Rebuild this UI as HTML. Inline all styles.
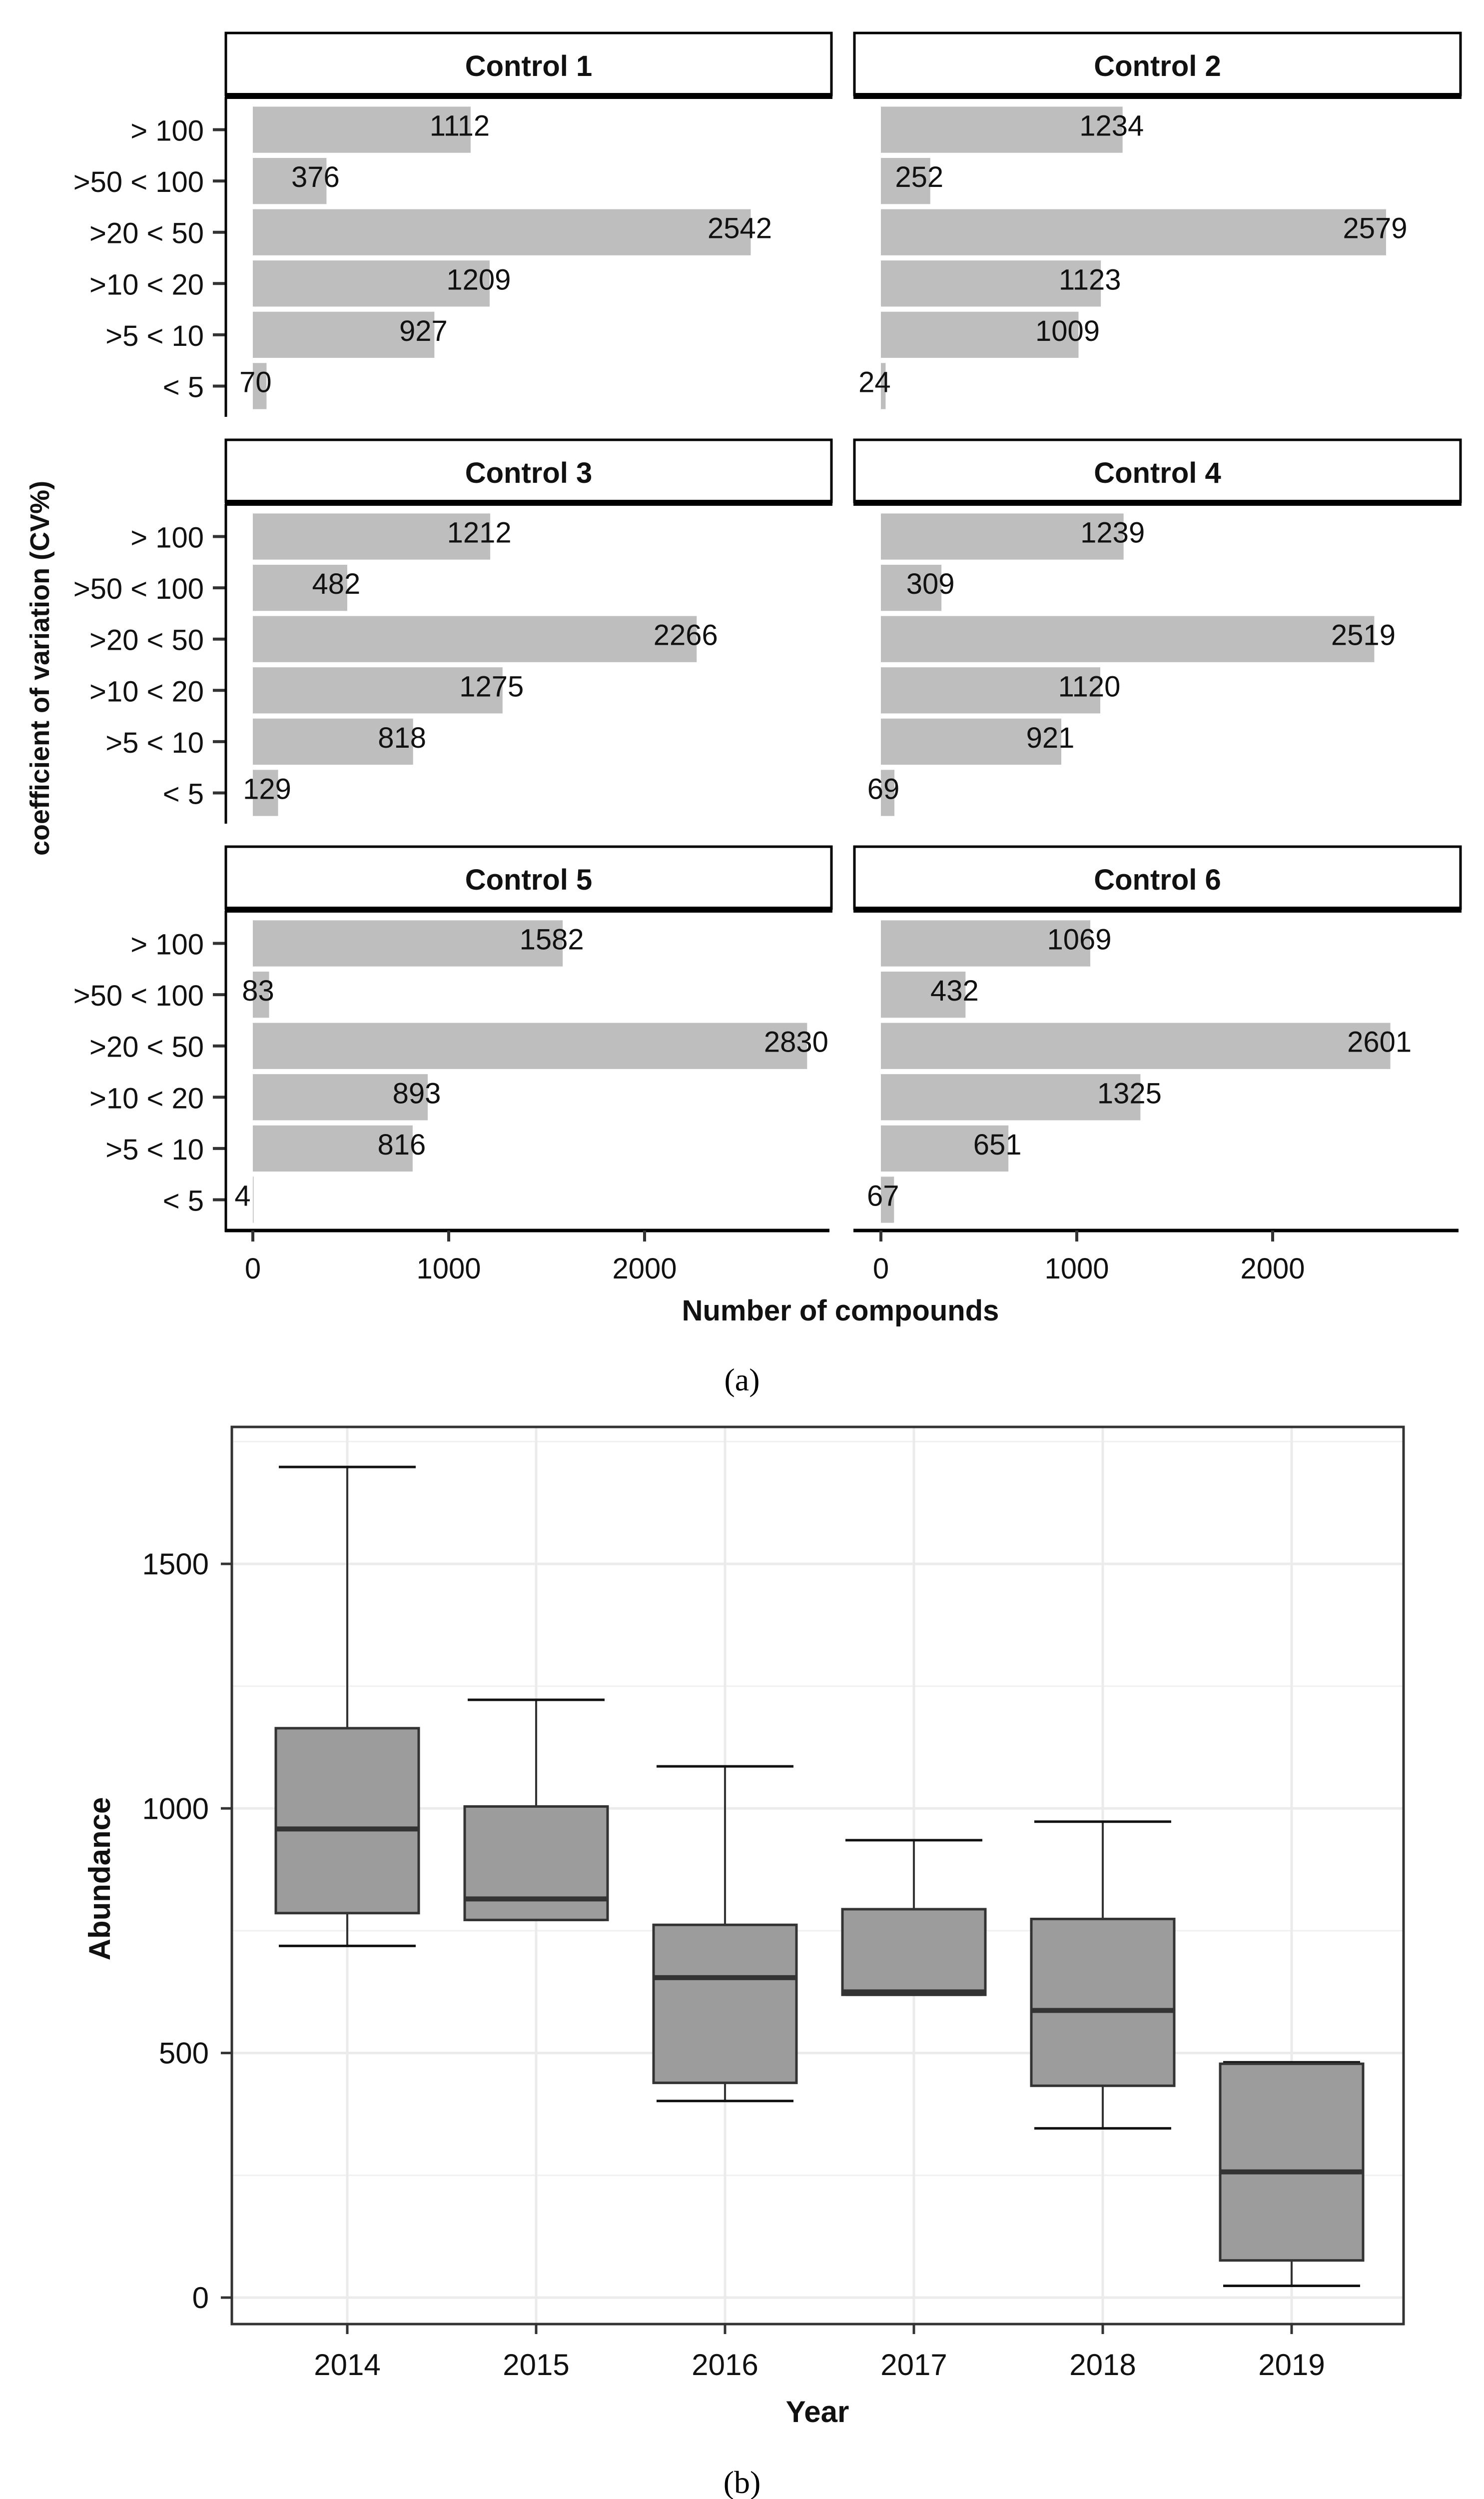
<!DOCTYPE html>
<html><head><meta charset="utf-8"><style>
html,body{margin:0;padding:0;background:#fff;width:2970px;height:5038px;overflow:hidden;position:relative;}
svg{display:block;position:absolute;left:0;top:0;font-family:"Liberation Sans",sans-serif;overflow:hidden;}
</style></head><body>
<svg id="fig" width="2970" height="5038" viewBox="0 0 2970 5038">
<g id="facets"></g>
<g id="boxes"></g>
</svg>
<script>
const NS='http://www.w3.org/2000/svg';
function mk(tag,attrs,parent,txt){const e=document.createElementNS(NS,tag);for(const k in attrs)e.setAttribute(k,attrs[k]);if(txt!==undefined)e.textContent=txt;parent.appendChild(e);return e;}

// ---------- Chart (a) data ----------
const cvCategories=['> 100','>50 < 100','>20 < 50','>10 < 20','>5 < 10','< 5'];
const panelNames=['Control 1','Control 2','Control 3','Control 4','Control 5','Control 6'];
const control1=[1112,376,2542,1209,927,70];
const control2=[1234,252,2579,1123,1009,24];
const control3=[1212,482,2266,1275,818,129];
const control4=[1239,309,2519,1120,921,69];
const control5=[1582,83,2830,893,816,4];
const control6=[1069,432,2601,1325,651,67];
const xTicks=[0,1000,2000];

const panelValues=[control1,control2,control3,control4,control5,control6];
const fa=document.getElementById('facets');
const colX=[{axis:452,zero:506,right:1664},{axis:1710,zero:1763,right:2923}];
const rowT=[64,878,1692];
const pxPerUnit=0.392;
const plotH=636;
const step=plotH/6.2;

panelValues.forEach((vals,p)=>{
  const c=colX[p%2], T=rowT[Math.floor(p/2)], row=Math.floor(p/2);
  const g=mk('g',{},fa);
  
  
  const sx=v=>c.zero+v*pxPerUnit;
  const plotTop=T+134;
  const s=mk('rect',{x:c.axis,y:T+2,width:c.right-c.axis,height:124,fill:'#fff',stroke:'#000','stroke-width':5},g);
  
  
  mk('rect',{x:c.axis-2,y:T+122,width:c.right-c.axis+4,height:12,fill:'#000'},g);
  const st=mk('text',{x:(c.axis+c.right)/2,y:T+88,'text-anchor':'middle','font-size':58,'font-weight':'bold',fill:'#111'},g,panelNames[p]);
  
  
  vals.forEach((v,i)=>{
    const cy=plotTop+step*(0.6+i);
    const r=mk('rect',{x:c.zero,y:cy-step*0.45,width:Math.max(1,sx(v)-c.zero),height:step*0.9,fill:'#bebebe'},g);
    
    
    const t=mk('text',{x:sx(v)-22,y:cy+12,'text-anchor':'middle','font-size':58,fill:'#111'},g,String(v));
    
    
    if(p%2===0){
      mk('line',{x1:c.axis-26,x2:c.axis,y1:cy,y2:cy,stroke:'#333','stroke-width':6},g);
      const yl=mk('text',{x:c.axis-44,y:cy+22,'text-anchor':'end','font-size':58,fill:'#111'},g,cvCategories[i]);
      
      
    }
  });
  if(p%2===0){mk('line',{x1:c.axis,x2:c.axis,y1:plotTop-4,y2:plotTop+plotH+(row===2?3:0),stroke:'#000','stroke-width':5},g);}
  if(row===2){
    mk('line',{x1:c.axis-2,x2:c.right-4,y1:plotTop+plotH,y2:plotTop+plotH,stroke:'#000','stroke-width':7},g);
    xTicks.forEach(tv=>{
      mk('line',{x1:sx(tv),x2:sx(tv),y1:plotTop+plotH,y2:plotTop+plotH+22,stroke:'#333','stroke-width':6},g);
      const xl=mk('text',{x:sx(tv),y:plotTop+plotH+96,'text-anchor':'middle','font-size':58,fill:'#111'},g,String(tv));
      
      
    });
  }
});
const xt=mk('text',{x:1682,y:2642,'text-anchor':'middle','font-size':58,'font-weight':'bold',fill:'#111'},fa,'Number of compounds');


const yt=mk('text',{x:0,y:0,transform:'translate(98,1337) rotate(-90)','text-anchor':'middle','font-size':54,'font-weight':'bold',fill:'#111'},fa,'coefficient of variation (CV%)');


const ca=mk('text',{x:1485,y:2782,'text-anchor':'middle','font-size':64,'font-family':'Liberation Serif, serif',fill:'#000'},fa,'(a)');



// ---------- Chart (b) data ----------
const years=['2014','2015','2016','2017','2018','2019'];
const whiskerHigh=[1698,1222,1086,935,973,481];
const q3=[1164,1004,762,794,774,478];
const medians=[958,815,654,625,587,257];
const q1=[786,772,439,619,433,76];
const whiskerLow=[719,772,402,619,346,24];
const yTicks=[0,500,1000,1500];

const bx=document.getElementById('boxes');
const L=464,R=2809,TOP=2855,BOT=4650;
const sy=v=>4597-v*0.9787;
const sxb=i=>695+i*378;
const bw=286;
mk('rect',{x:L,y:TOP,width:R-L,height:BOT-TOP,fill:'#fff'},bx);
[250,750,1250,1750].forEach(v=>mk('line',{x1:L,x2:R,y1:sy(v),y2:sy(v),stroke:'#f0f0f0','stroke-width':3},bx));
yTicks.forEach(v=>mk('line',{x1:L,x2:R,y1:sy(v),y2:sy(v),stroke:'#ebebeb','stroke-width':5},bx));
years.forEach((y,i)=>mk('line',{x1:sxb(i),x2:sxb(i),y1:TOP,y2:BOT,stroke:'#ebebeb','stroke-width':5},bx));
years.forEach((y,i)=>{
  const cx=sxb(i);
  const g=mk('g',{},bx);
  
  
  mk('line',{x1:cx,x2:cx,y1:sy(whiskerHigh[i]),y2:sy(q3[i]),stroke:'#333','stroke-width':4},g);
  mk('line',{x1:cx,x2:cx,y1:sy(q1[i]),y2:sy(whiskerLow[i]),stroke:'#333','stroke-width':4},g);
  mk('line',{x1:cx-137,x2:cx+137,y1:sy(whiskerHigh[i]),y2:sy(whiskerHigh[i]),stroke:'#111','stroke-width':5},g);
  mk('line',{x1:cx-137,x2:cx+137,y1:sy(whiskerLow[i]),y2:sy(whiskerLow[i]),stroke:'#111','stroke-width':5},g);
  mk('rect',{x:cx-bw/2,y:sy(q3[i]),width:bw,height:sy(q1[i])-sy(q3[i]),fill:'#9c9c9c',stroke:'#333','stroke-width':5},g);
  mk('line',{x1:cx-bw/2,x2:cx+bw/2,y1:sy(medians[i]),y2:sy(medians[i]),stroke:'#333','stroke-width':10},g);
  mk('line',{x1:cx,x2:cx,y1:BOT,y2:BOT+20,stroke:'#333','stroke-width':5},bx);
  const t=mk('text',{x:cx,y:4752,'text-anchor':'middle','font-size':60,fill:'#111'},bx,y);
  
  
});
yTicks.forEach(v=>{
  mk('line',{x1:L-22,x2:L,y1:sy(v),y2:sy(v),stroke:'#333','stroke-width':5},bx);
  const t=mk('text',{x:L-46,y:sy(v)+21,'text-anchor':'end','font-size':60,fill:'#111'},bx,String(v));
  
  
});
const fr=mk('rect',{x:L,y:TOP,width:R-L,height:BOT-TOP,fill:'none',stroke:'#333','stroke-width':5},bx);


const yr=mk('text',{x:1636,y:4846,'text-anchor':'middle','font-size':60,'font-weight':'bold',fill:'#111'},bx,'Year');


const ab=mk('text',{x:0,y:0,transform:'translate(220,3759) rotate(-90)','text-anchor':'middle','font-size':60,'font-weight':'bold',fill:'#111'},bx,'Abundance');


const cb=mk('text',{x:1485,y:4988,'text-anchor':'middle','font-size':64,'font-family':'Liberation Serif, serif',fill:'#000'},bx,'(b)');


</script>
</body></html>
